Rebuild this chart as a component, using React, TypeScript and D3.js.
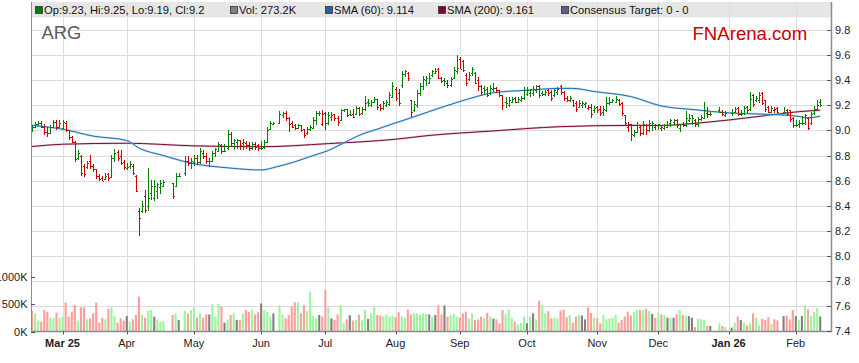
import React from "react";
import * as d3 from "d3";

// ---------- DATA ----------
const firstDay = new Date(2025, 1, 17);
const lastDay = new Date(2026, 1, 12);
const tradingDays: Date[] = d3.timeDay
  .range(firstDay, d3.timeDay.offset(lastDay, 1))
  .filter((d) => d.getDay() !== 0 && d.getDay() !== 6);

const monthLabels = ["Mar 25", "Apr", "May", "Jun", "Jul", "Aug", "Sep", "Oct", "Nov", "Dec", "Jan 26", "Feb"];
const boldLabels = ["Mar 25", "Jan 26"];
const priceTicks = [7.4, 7.6, 7.8, 8.0, 8.2, 8.4, 8.6, 8.8, 9.0, 9.2, 9.4, 9.6, 9.8];
const volumeTicks = [0, 500, 1000];

const N = null;
const opens = [
  9.00, 9.03, 9.05, 9.06, 9.03, 8.99, 8.98, 9.03, 9.07, 9.03,
  9.02, 9.06, 9.00, 8.95, 8.91, 8.78, 8.80, 8.72, 8.71, 8.76,
  8.72, 8.69, 8.64, 8.62, 8.61, 8.65, 8.63, 8.78, 8.83, 8.80,
  8.75, 8.70, 8.72, 8.72, 8.64, 8.36, 8.36, 8.48, 8.40, 8.50,
  8.46, 8.52, 8.55, 8.56, N, N, 8.58, 8.56, 8.64, N,
  8.66, 8.76, 8.74, 8.75, 8.78, 8.75, 8.82, 8.80, 8.76, 8.76,
  8.82, 8.84, 8.88, 8.84, 8.86, 8.97, 8.90, 8.91, 8.92, 8.90,
  8.90, 8.88, 8.86, 8.89, 8.88, 8.86, 8.87, 8.91, 9.01, 9.05,
  N, 9.06, 9.12, 9.14, 9.10, 9.06, 9.04, 9.02, 9.04, 9.01,
  8.98, 9.01, 9.02, 9.08, 9.14, 9.05, 9.14, 9.06, 9.11, 9.13,
  9.10, 9.08, 9.16, 9.17, 9.13, 9.13, 9.13, 9.18, 9.14, 9.17,
  9.23, 9.20, 9.23, 9.25, 9.20, 9.18, 9.20, 9.21, 9.27, 9.33,
  9.30, 9.36, 9.45, 9.46, 9.24, 9.16, 9.20, 9.30, 9.35, 9.40,
  9.38, 9.44, 9.46, 9.49, 9.42, 9.40, 9.38, 9.36, 9.42, 9.47,
  9.57, 9.55, 9.44, 9.41, 9.46, 9.46, 9.40, 9.35, 9.34, 9.33,
  9.30, 9.33, 9.34, 9.32, 9.28, 9.23, 9.20, 9.23, 9.26, 9.23,
  9.24, 9.26, 9.29, 9.30, 9.30, 9.32, 9.35, 9.30, 9.29, 9.32,
  9.31, 9.28, 9.31, 9.35, 9.31, 9.26, 9.24, 9.24, 9.22, 9.19,
  9.20, 9.21, 9.18, 9.19, 9.16, 9.19, 9.17, 9.15, 9.16, 9.22,
  9.23, 9.23, 9.24, 9.22, 9.12, 9.03, 9.05, 8.96, 8.99, 9.03,
  8.98, 9.04, 9.00, 9.04, 9.03, 9.04, 9.02, 9.02, 9.03, 9.06,
  9.07, 9.08, 9.02, 9.05, 9.04, 9.08, 9.12, 9.08, 9.05, 9.09,
  9.10, 9.14, 9.13, N, N, 9.16, 9.15, 9.12, N, 9.14,
  9.15, 9.18, 9.13, 9.14, 9.19, 9.17, 9.28, 9.24, 9.24, 9.30,
  9.24, 9.19, 9.15, 9.16, 9.18, N, 9.15, 9.16, 9.16, 9.10,
  9.04, 9.05, 9.06, 9.06, 9.10, 9.06, 9.14, 9.17, 9.23,
];
const highs = [
  9.04, 9.06, 9.07, 9.07, 9.05, 9.02, 9.04, 9.08, 9.08, 9.08,
  9.08, 9.07, 9.00, 8.95, 8.91, 8.84, 8.80, 8.73, 8.75, 8.80,
  8.73, 8.69, 8.65, 8.63, 8.66, 8.66, 8.80, 8.85, 8.84, 8.84,
  8.76, 8.74, 8.75, 8.73, 8.64, 8.38, 8.43, 8.52, 8.70, 8.60,
  8.60, 8.58, 8.60, 8.60, N, N, 8.58, 8.66, 8.66, N,
  8.79, 8.79, 8.78, 8.80, 8.80, 8.86, 8.84, 8.82, 8.78, 8.83,
  8.86, 8.90, 8.89, 8.89, 9.00, 8.98, 8.93, 8.93, 8.92, 8.93,
  8.91, 8.90, 8.90, 8.90, 8.89, 8.91, 8.92, 9.02, 9.07, 9.06,
  N, 9.15, 9.14, 9.15, 9.10, 9.07, 9.05, 9.05, 9.04, 9.01,
  9.02, 9.04, 9.10, 9.15, 9.15, 9.16, 9.14, 9.14, 9.14, 9.13,
  9.11, 9.17, 9.17, 9.17, 9.16, 9.17, 9.19, 9.18, 9.18, 9.27,
  9.25, 9.24, 9.26, 9.25, 9.21, 9.23, 9.24, 9.30, 9.38, 9.34,
  9.33, 9.47, 9.48, 9.46, 9.24, 9.23, 9.32, 9.37, 9.43, 9.43,
  9.45, 9.48, 9.49, 9.49, 9.42, 9.41, 9.40, 9.42, 9.50, 9.60,
  9.58, 9.56, 9.45, 9.46, 9.50, 9.46, 9.42, 9.36, 9.35, 9.34,
  9.36, 9.37, 9.34, 9.32, 9.28, 9.26, 9.26, 9.26, 9.26, 9.26,
  9.27, 9.34, 9.34, 9.33, 9.35, 9.36, 9.36, 9.31, 9.32, 9.33,
  9.32, 9.33, 9.34, 9.36, 9.31, 9.27, 9.27, 9.24, 9.23, 9.24,
  9.23, 9.22, 9.20, 9.21, 9.19, 9.19, 9.19, 9.19, 9.26, 9.26,
  9.25, 9.27, 9.25, 9.22, 9.12, 9.06, 9.05, 9.00, 9.06, 9.03,
  9.07, 9.05, 9.08, 9.07, 9.05, 9.05, 9.04, 9.05, 9.07, 9.09,
  9.09, 9.09, 9.05, 9.06, 9.15, 9.13, 9.12, 9.09, 9.10, 9.12,
  9.22, 9.18, 9.14, N, N, 9.18, 9.16, 9.15, N, 9.17,
  9.18, 9.18, 9.16, 9.19, 9.19, 9.30, 9.29, 9.27, 9.30, 9.30,
  9.24, 9.19, 9.19, 9.18, 9.18, N, 9.18, 9.17, 9.16, 9.10,
  9.08, 9.08, 9.11, 9.13, 9.10, 9.14, 9.19, 9.24, 9.25,
];
const lows = [
  8.99, 9.02, 9.04, 9.02, 8.97, 8.95, 8.98, 9.02, 9.01, 9.02,
  9.01, 8.99, 8.93, 8.90, 8.75, 8.77, 8.64, 8.63, 8.70, 8.70,
  8.67, 8.62, 8.60, 8.60, 8.61, 8.60, 8.63, 8.75, 8.76, 8.73,
  8.69, 8.69, 8.70, 8.65, 8.51, 8.16, 8.35, 8.35, 8.36, 8.45,
  8.44, 8.46, 8.50, 8.55, N, N, 8.46, 8.55, 8.63, N,
  8.64, 8.72, 8.70, 8.72, 8.73, 8.74, 8.78, 8.74, 8.71, 8.75,
  8.79, 8.83, 8.82, 8.83, 8.85, 8.87, 8.85, 8.86, 8.85, 8.85,
  8.86, 8.84, 8.85, 8.85, 8.84, 8.85, 8.86, 8.90, 9.01, 9.05,
  N, 9.06, 9.10, 9.08, 8.99, 9.02, 9.01, 9.02, 8.99, 8.94,
  8.97, 9.00, 9.02, 9.05, 9.12, 9.04, 9.01, 9.05, 9.08, 9.08,
  9.04, 9.08, 9.15, 9.11, 9.12, 9.10, 9.13, 9.12, 9.13, 9.16,
  9.19, 9.19, 9.22, 9.17, 9.16, 9.17, 9.19, 9.20, 9.26, 9.24,
  9.20, 9.34, 9.43, 9.40, 9.11, 9.15, 9.18, 9.28, 9.33, 9.36,
  9.37, 9.43, 9.45, 9.41, 9.38, 9.36, 9.34, 9.35, 9.41, 9.45,
  9.49, 9.47, 9.36, 9.40, 9.44, 9.37, 9.32, 9.29, 9.29, 9.27,
  9.29, 9.31, 9.30, 9.27, 9.17, 9.18, 9.19, 9.22, 9.22, 9.22,
  9.23, 9.25, 9.28, 9.27, 9.28, 9.30, 9.26, 9.28, 9.28, 9.28,
  9.24, 9.27, 9.29, 9.29, 9.24, 9.23, 9.23, 9.19, 9.15, 9.18,
  9.18, 9.18, 9.17, 9.10, 9.14, 9.14, 9.12, 9.12, 9.15, 9.21,
  9.22, 9.22, 9.20, 9.12, 9.04, 8.99, 8.92, 8.95, 8.98, 8.96,
  8.97, 8.97, 8.99, 9.00, 9.01, 9.01, 9.00, 9.01, 9.02, 9.03,
  9.05, 9.02, 8.99, 9.03, 9.03, 9.07, 9.05, 9.03, 9.03, 9.08,
  9.10, 9.10, 9.12, N, N, 9.14, 9.12, 9.11, N, 9.12,
  9.14, 9.12, 9.12, 9.13, 9.14, 9.16, 9.19, 9.23, 9.22, 9.21,
  9.15, 9.14, 9.14, 9.14, 9.14, N, 9.14, 9.12, 9.07, 9.02,
  9.03, 9.02, 9.05, 9.05, 9.01, 9.05, 9.13, 9.16, 9.19,
];
const closes = [
  9.03, 9.05, 9.06, 9.03, 8.99, 8.98, 9.03, 9.07, 9.03, 9.06,
  9.07, 9.00, 8.95, 8.91, 8.77, 8.82, 8.66, 8.65, 8.74, 8.72,
  8.69, 8.64, 8.61, 8.60, 8.64, 8.62, 8.78, 8.82, 8.78, 8.74,
  8.71, 8.71, 8.73, 8.66, 8.52, 8.30, 8.40, 8.37, 8.46, 8.56,
  8.56, 8.57, 8.58, 8.59, N, N, 8.48, 8.64, 8.64, N,
  8.76, 8.74, 8.76, 8.78, 8.75, 8.84, 8.80, 8.76, 8.76, 8.82,
  8.85, 8.89, 8.84, 8.84, 8.97, 8.90, 8.92, 8.92, 8.88, 8.91,
  8.88, 8.86, 8.89, 8.87, 8.86, 8.86, 8.91, 9.00, 9.06, 9.06,
  N, 9.13, 9.14, 9.10, 9.05, 9.03, 9.02, 9.04, 9.00, 8.96,
  9.01, 9.03, 9.08, 9.14, 9.14, 9.13, 9.06, 9.12, 9.12, 9.10,
  9.07, 9.16, 9.17, 9.12, 9.12, 9.11, 9.18, 9.13, 9.17, 9.22,
  9.22, 9.23, 9.25, 9.19, 9.18, 9.22, 9.23, 9.28, 9.35, 9.26,
  9.22, 9.45, 9.47, 9.42, 9.15, 9.21, 9.30, 9.35, 9.41, 9.42,
  9.42, 9.47, 9.47, 9.42, 9.39, 9.39, 9.36, 9.41, 9.48, 9.50,
  9.49, 9.48, 9.38, 9.44, 9.49, 9.38, 9.35, 9.31, 9.32, 9.28,
  9.34, 9.34, 9.32, 9.28, 9.20, 9.22, 9.24, 9.25, 9.23, 9.25,
  9.26, 9.32, 9.32, 9.33, 9.33, 9.35, 9.28, 9.29, 9.31, 9.30,
  9.26, 9.32, 9.33, 9.31, 9.26, 9.24, 9.26, 9.20, 9.17, 9.22,
  9.22, 9.22, 9.19, 9.13, 9.18, 9.16, 9.14, 9.17, 9.22, 9.23,
  9.24, 9.25, 9.21, 9.14, 9.06, 9.05, 8.97, 8.99, 9.04, 8.98,
  9.05, 9.00, 9.06, 9.06, 9.04, 9.05, 9.03, 9.04, 9.04, 9.08,
  9.08, 9.04, 9.05, 9.04, 9.10, 9.10, 9.10, 9.05, 9.09, 9.11,
  9.16, 9.13, 9.13, N, N, 9.15, 9.13, 9.14, N, 9.14,
  9.17, 9.13, 9.13, 9.18, 9.16, 9.25, 9.21, 9.26, 9.28, 9.22,
  9.17, 9.15, 9.18, 9.17, 9.15, N, 9.15, 9.13, 9.09, 9.04,
  9.04, 9.06, 9.06, 9.12, 9.02, 9.13, 9.17, 9.20, 9.20,
];
const volumes = [
  373, 330, 197, 180, 390, 360, 250, 240, 342, 250,
  270, 525, 270, 360, 480, 197, 440, 440, 220, 240,
  330, 525, 160, 250, 220, 415, 440, 280, 160, 240,
  200, 280, 180, 220, 300, 633, 300, 250, 373, 390,
  270, 220, 180, 190, N, N, 300, 330, 210, N,
  373, 330, 390, 440, 250, 330, 250, 310, 310, 500,
  270, 500, 450, 160, 220, 300, 330, 210, 210, 330,
  390, 360, 400, 310, 350, 510, 390, 355, 270, 330,
  N, 475, 310, 240, 300, 450, 530, 530, 330, 475,
  370, 720, 280, 240, 300, 270, 755, 440, 240, 210,
  310, 480, 150, 220, 295, 200, 210, 300, 200, 390,
  230, 330, 440, 300, 290, 280, 310, 270, 280, 260,
  350, 270, 250, 400, 310, 330, 330, 310, 330, 320,
  310, 270, 300, 480, 310, 475, 270, 300, 320, 270,
  250, 330, 360, 240, 330, 210, 220, 270, 240, 340,
  270, 235, 220, 150, 390, 310, 400, 250, 180, 130,
  150, 270, 150, 270, 330, 220, 560, 480, 330, 370,
  240, 250, 240, 380, 400, 260, 300, 160, 270, 300,
  290, 220, 440, 340, 250, 240, 150, 300, 220, 240,
  250, 300, 160, 210, 270, 360, 290, 350, 390, 390,
  390, 415, 370, 320, 250, 340, 310, 295, 250, 250,
  250, 310, 390, 300, 290, 280, 250, 80, 230, 220,
  210, 100, 100, N, N, 150, 100, 80, N, 70,
  160, 270, 210, 160, 110, 150, 330, 250, 120, 230,
  210, 260, 140, 220, 200, N, 280, 290, 220, 390,
  280, 210, 280, 475, 400, 290, 350, 430, 273,
];

const sma60Idx = [0, 10, 20, 31, 35, 43, 52, 65, 75, 80, 86, 92, 97, 102, 108, 113, 119, 124, 130, 140, 151, 162, 173, 177, 184, 196, 206, 217, 228, 239, 250, 254, 258];
const sma60Val = [9.04, 9.01, 8.955, 8.92, 8.86, 8.80, 8.74, 8.70, 8.685, 8.71, 8.75, 8.80, 8.84, 8.90, 8.97, 9.01, 9.06, 9.10, 9.15, 9.23, 9.30, 9.32, 9.335, 9.335, 9.31, 9.27, 9.195, 9.165, 9.14, 9.13, 9.115, 9.10, 9.114];
const sma200Idx = [0, 10, 31, 53, 65, 75, 97, 119, 130, 151, 173, 196, 206, 217, 228, 239, 250, 258];
const sma200Val = [8.872, 8.89, 8.898, 8.877, 8.872, 8.87, 8.895, 8.93, 8.96, 8.996, 9.03, 9.04, 9.04, 9.057, 9.083, 9.115, 9.147, 9.161];

// ---------- LAYOUT ----------
const W = 859, H = 363;
const plotL = 31, plotR = 831, plotT = 2, plotB = 331.5;
const FONT = "'Liberation Sans', Arial, Helvetica, sans-serif";

const GREEN = "#008000", RED = "#cc0000";
const VGREEN = "#9cf49c", VRED = "#ff9c9c", VGRAY = "#808080";

export default function App() {
  const x = d3.scaleLinear().domain([0, tradingDays.length - 1]).range([32, 32 + (tradingDays.length - 1) * 3.055]);
  const y = d3.scaleLinear().domain([7.4, 9.8]).range([331.3, 30]);
  const yv = d3.scaleLinear().domain([0, 1000]).range([331.5, 276.5]);

  const monthStarts: number[] = [];
  tradingDays.forEach((d, i) => {
    if (i > 0 && d.getMonth() !== tradingDays[i - 1].getMonth()) monthStarts.push(i);
  });

  const prevClose = (i: number) => {
    for (let k = i - 1; k >= 0; k--) if (closes[k] != null) return closes[k] as number;
    return opens[i] as number;
  };

  const line60 = d3.line<number>().x((d) => x(d)).y((_, k) => y(sma60Val[k])).curve(d3.curveMonotoneX);
  const line200 = d3.line<number>().x((d) => x(d)).y((_, k) => y(sma200Val[k])).curve(d3.curveMonotoneX);

  const legend = [
    { x: 35, color: "#008000", text: "Op:9.23, Hi:9.25, Lo:9.19, Cl:9.2" },
    { x: 230, color: "#808080", text: "Vol: 273.2K" },
    { x: 325, color: "#1f64a8", text: "SMA (60): 9.114" },
    { x: 438, color: "#7a0a2a", text: "SMA (200): 9.161" },
    { x: 561, color: "#5c5c8a", text: "Consensus Target: 0 - 0" },
  ];

  return (
    <div style={{ position: "fixed", left: 0, top: 0, width: W, height: H, background: "#fff" }}>
      <svg width={W} height={H} style={{ display: "block", fontFamily: FONT }}>
        <rect x={0} y={0} width={W} height={H} fill="#fff" />
        {/* legend band */}
        <rect x={plotL} y={plotT} width={plotR - plotL} height={15.5} fill="#e6e6e6" />
        {/* horizontal grid */}
        {priceTicks.filter((t) => t > 7.45).map((t) => (
          <line key={"hg" + t} x1={plotL} x2={plotR} y1={Math.round(y(t)) + 0.5} y2={Math.round(y(t)) + 0.5} stroke="#dcdcdc" strokeWidth={1} />
        ))}
        {/* vertical grid */}
        {monthStarts.map((i) => (
          <line key={"vg" + i} x1={Math.round(x(i)) + 0.5} x2={Math.round(x(i)) + 0.5} y1={plotT} y2={plotB} stroke="#dcdcdc" strokeWidth={1} />
        ))}
        {/* volume bars */}
        {volumes.map((v, i) => {
          if (v == null) return null;
          const c = closes[i] as number;
          const pc = prevClose(i);
          const col = i === 0 ? VRED : c > pc ? VGREEN : c < pc ? VRED : VGRAY;
          return <rect key={"v" + i} x={x(i) - 1} y={yv(v)} width={2.1} height={yv(0) - yv(v)} fill={col} />;
        })}
        {/* SMA lines */}
        <path d={line200(sma200Idx) || ""} fill="none" stroke="#c7a3b3" strokeWidth={2.2} strokeOpacity={0.55} />
        <path d={line200(sma200Idx) || ""} fill="none" stroke="#7a0a2a" strokeWidth={1} />
        <path d={line60(sma60Idx) || ""} fill="none" stroke="#9dc8e8" strokeWidth={2.2} strokeOpacity={0.6} />
        <path d={line60(sma60Idx) || ""} fill="none" stroke="#1f6fb2" strokeWidth={1} />
        {/* OHLC bars */}
        {opens.map((o, i) => {
          if (o == null) return null;
          const h = highs[i] as number, l = lows[i] as number, c = closes[i] as number;
          const col = i === 0 ? GREEN : c >= prevClose(i) ? GREEN : RED;
          const cx = Math.round(x(i)) + 0.5;
          return (
            <g key={"b" + i} stroke={col} strokeWidth={1} shapeRendering="crispEdges">
              <line x1={cx} x2={cx} y1={y(h) - 0.5} y2={y(l) + 0.5} />
              <line x1={cx - 1.5} x2={cx} y1={Math.round(y(o)) + 0.5} y2={Math.round(y(o)) + 0.5} />
              <line x1={cx} x2={cx + 1.5} y1={Math.round(y(c)) + 0.5} y2={Math.round(y(c)) + 0.5} />
            </g>
          );
        })}
        {/* axes */}
        <line x1={plotL + 0.5} x2={plotL + 0.5} y1={plotT} y2={plotB} stroke="#8c8c8c" strokeWidth={1} />
        <line x1={plotR + 0.5} x2={plotR + 0.5} y1={plotT} y2={plotB} stroke="#8c8c8c" strokeWidth={1.5} />
        <line x1={plotL} x2={plotR + 1} y1={plotB} y2={plotB} stroke="#8c8c8c" strokeWidth={1.5} />
        {/* right price axis */}
        {priceTicks.map((t) => (
          <g key={"pt" + t}>
            <line x1={plotR - 4} x2={plotR} y1={Math.round(y(t)) + 0.5} y2={Math.round(y(t)) + 0.5} stroke="#555" />
            <text x={835} y={y(t) + 4} fontSize={11} fill="#222">{t.toFixed(1)}</text>
          </g>
        ))}
        {/* left volume axis */}
        {volumeTicks.map((t) => (
          <g key={"vt" + t}>
            <line x1={plotL} x2={plotL + 4} y1={Math.round(yv(t)) + 0.5} y2={Math.round(yv(t)) + 0.5} stroke="#555" />
            <text x={27.5} y={yv(t) + 4} fontSize={11} fill="#222" textAnchor="end">{t + "K"}</text>
          </g>
        ))}
        {/* x axis ticks & labels */}
        {monthStarts.map((i, k) => (
          <g key={"xt" + i}>
            <line x1={Math.round(x(i)) + 0.5} x2={Math.round(x(i)) + 0.5} y1={plotB} y2={plotB + 3} stroke="#555" />
            <text x={x(i)} y={346.5} fontSize={11} textAnchor="middle" fill="#222" fontWeight={boldLabels.includes(monthLabels[k]) ? "bold" : "normal"}>
              {monthLabels[k]}
            </text>
          </g>
        ))}
        {/* legend */}
        {legend.map((it) => (
          <g key={it.text}>
            <rect x={it.x + 0.5} y={6.5} width={7} height={7} fill={it.color} stroke="#333" strokeWidth={0.8} />
            <text x={it.x + 9} y={14} fontSize={11.2} fill="#111">{it.text}</text>
          </g>
        ))}
        {/* titles */}
        <text x={41.5} y={39.3} fontSize={18.3} fill="#5a5a5a">ARG</text>
        <text x={692.5} y={39.5} fontSize={18.6} fill="#cc0000">FNArena.com</text>
      </svg>
    </div>
  );
}
